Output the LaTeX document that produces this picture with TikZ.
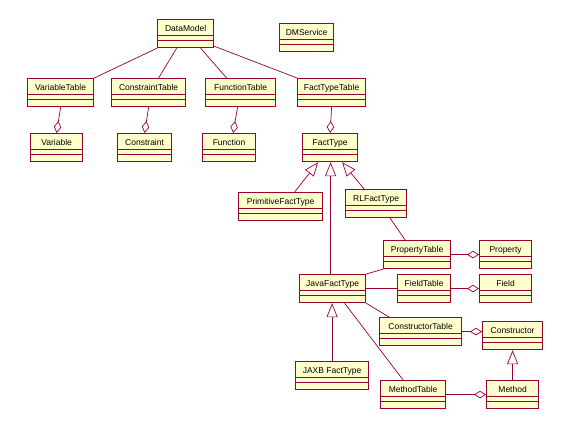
\documentclass[tikz,border=0pt]{standalone}
\usepackage{fontspec}
\setmainfont{Liberation Sans}
\usepackage{xcolor}
\usepackage{tikz}
\usetikzlibrary{arrows.meta}
\definecolor{umlline}{HTML}{990033}
\definecolor{umlfill}{HTML}{FFFFCC}

\begin{document}
\begin{tikzpicture}[
  x=1pt, y=-1pt,
  font=\fontsize{8.5}{10}\selectfont,
  umlclass/.style={rectangle, draw=umlline, line width=1.2pt, fill=umlfill,
                   anchor=north west, inner sep=0pt, minimum height=28pt,
                   text height=12pt, text depth=16pt,
                   path picture={
                     \draw[umlline, line width=1pt]
                       ([yshift=-16pt]path picture bounding box.north west) --
                       ([yshift=-16pt]path picture bounding box.north east);
                     \draw[umlline, line width=1pt]
                       ([yshift=-21pt]path picture bounding box.north west) --
                       ([yshift=-21pt]path picture bounding box.north east);
                   }},
  assoc/.style={draw=umlline, line width=0.7pt},
  aggr/.style={assoc, -{Diamond[open, length=12pt, width=7.5pt]}},
  inherit/.style={assoc, -{Triangle[open, length=14pt, width=11pt]}}
]
\path[use as bounding box, fill=white] (0,0) rectangle (575,429);
% Top level
\node[umlclass, minimum width=56pt] (dm)  at (157,19) {DataModel};
\node[umlclass, minimum width=54pt] (dms) at (279,23) {DMService};
% Tables
\node[umlclass, minimum width=66pt] (vt)  at (27,78)  {VariableTable};
\node[umlclass, minimum width=74pt] (ct)  at (111,78) {ConstraintTable};
\node[umlclass, minimum width=70pt] (ft)  at (205,78) {FunctionTable};
\node[umlclass, minimum width=68pt] (ftt) at (297,78) {FactTypeTable};
% Elements
\node[umlclass, minimum width=52pt] (var) at (30,133)  {Variable};
\node[umlclass, minimum width=54pt] (con) at (117,133) {Constraint};
\node[umlclass, minimum width=53pt] (fun) at (202,133) {Function};
\node[umlclass, minimum width=55pt] (fty) at (302,133) {FactType};
% Fact type hierarchy
\node[umlclass, minimum width=84pt] (pft)  at (238,192) {PrimitiveFactType};
\node[umlclass, minimum width=61pt] (rlf)  at (345,189) {RLFactType};
\node[umlclass, minimum width=66pt] (jft)  at (299,274) {JavaFactType};
\node[umlclass, minimum width=73pt] (jaxb) at (295,361) {JAXB FactType};
% Java members
\node[umlclass, minimum width=67pt] (pt)   at (383,240) {PropertyTable};
\node[umlclass, minimum width=52pt] (prop) at (479,240) {Property};
\node[umlclass, minimum width=53pt] (fdt)  at (397,274) {FieldTable};
\node[umlclass, minimum width=52pt] (fld)  at (479,274) {Field};
\node[umlclass, minimum width=82pt] (cst)  at (379,317) {ConstructorTable};
\node[umlclass, minimum width=60pt] (cons) at (482,321) {Constructor};
\node[umlclass, minimum width=65pt] (mt)   at (380,380) {MethodTable};
\node[umlclass, minimum width=52pt] (meth) at (486,380) {Method};
% DataModel associations
\draw[assoc] (dm.south west) -- (vt.north east);
\draw[assoc] ([xshift=-9pt]dm.south) -- ([xshift=10pt]ct.north);
\draw[assoc] ([xshift=15pt]dm.south) -- ([xshift=-14pt]ft.north);
\draw[assoc] ([yshift=2pt]dm.south east) -- (ftt.north west);
% Aggregations
\draw[aggr] (vt.south) -- (var.north);
\draw[aggr] (ct.south) -- (con.north);
\draw[aggr] ([xshift=-3pt]ft.south) -- ([xshift=4pt]fun.north);
\draw[aggr] (ftt.south) -- (fty.north);
\draw[aggr] (pt.east) -- (prop.west);
\draw[aggr] (fdt.east) -- (fld.west);
\draw[aggr] (cst.east) -- (cst.east -| cons.west);
\draw[aggr] (mt.east) -- (meth.west);
% Generalizations
\draw[inherit] ([xshift=14pt]pft.north) -- ([xshift=-12pt]fty.south);
\draw[inherit] ([xshift=-2pt]jft.north) -- ([xshift=-2pt]jft.north |- fty.south);
\draw[inherit] ([xshift=-12pt]rlf.north) -- ([xshift=12pt]fty.south);
\draw[inherit] (jaxb.north) -- (jaxb.north |- jft.south);
\draw[inherit] (meth.north) -- (meth.north |- cons.south);
% Java fact type associations
\draw[assoc] ([xshift=14pt]rlf.south) -- ([xshift=-12pt]pt.north);
\draw[assoc] (pt.south west) -- (jft.north east);
\draw[assoc] (jft.east) -- (fdt.west);
\draw[assoc] (jft.south east) -- ([xshift=10pt]cst.north west);
\draw[assoc] ([xshift=12pt]jft.south) -- ([xshift=-10pt]mt.north);
\end{tikzpicture}
\end{document}
